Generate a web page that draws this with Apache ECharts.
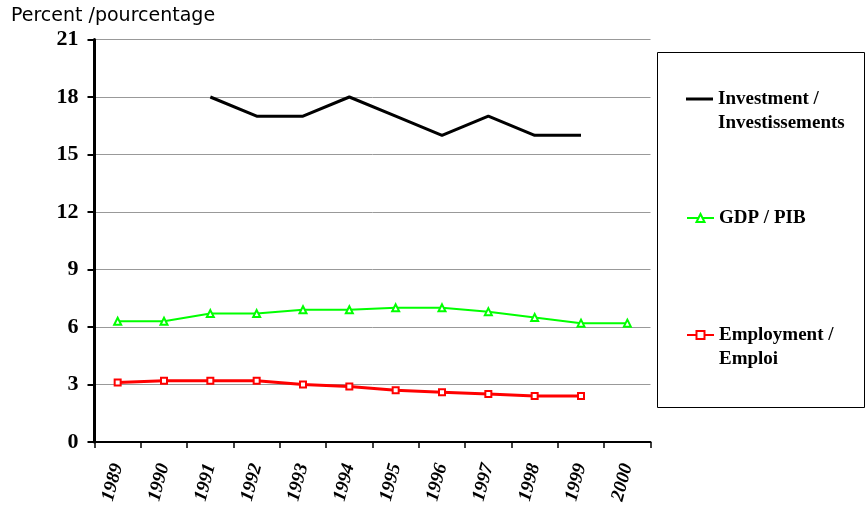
<!DOCTYPE html>
<html>
<head>
<meta charset="utf-8">
<script src="https://cdn.jsdelivr.net/npm/echarts@6/dist/echarts.min.js"></script>
<style>
  html, body { margin: 0; padding: 0; background: #fff; }
  #app { width: 866px; height: 508px; }
</style>
</head>
<body>
<div id="app"></div>
<script>
var years = ['1989', '1990', '1991', '1992', '1993', '1994', '1995', '1996', '1997', '1998', '1999', '2000'];
var investment = [null, null, 18, 17, 17, 18, 17, 16, 17, 16, 16, null];
var gdp = [6.3, 6.3, 6.7, 6.7, 6.9, 6.9, 7.0, 7.0, 6.8, 6.5, 6.2, 6.2];
var employment = [3.1, 3.2, 3.2, 3.2, 3.0, 2.9, 2.7, 2.6, 2.5, 2.4, 2.4, null];

var nameInv = 'Investment / Investissements';
var nameGdp = 'GDP / PIB';
var nameEmp = 'Employment / Emploi';

var serif = '"Liberation Serif", "Times New Roman", serif';

var legendText = {
    fontFamily: serif,
    fontWeight: 'bold',
    fontSize: 19,
    lineHeight: 24,
    color: '#000'
};

function legendAt(name, top, icon, h) {
    var item = { name: name };
    if (icon) item.icon = icon;
    return {
        data: [item],
        left: 686,
        top: top,
        padding: 0,
        itemWidth: 27,
        itemHeight: h || 10,
        selectedMode: false,
        textStyle: legendText,
        formatter: function (n) {
            if (n === nameInv) return '\nInvestment /\nInvestissements';
            if (n === nameEmp) return '\nEmployment /\nEmploi';
            return n;
        }
    };
}

var myChart = echarts.init(document.getElementById('app'));

myChart.setOption({
    animation: false,
    backgroundColor: '#fff',
    grid: { left: 94.5, right: 215.5, top: 39.5, bottom: 66 },
    graphic: [{
        type: 'text',
        left: 11,
        top: 7,
        style: {
            text: 'Percent /pourcentage',
            font: '19px "DejaVu Sans", Verdana, sans-serif',
            fill: '#000'
        }
    }, {
        type: 'rect',
        shape: { x: 657.5, y: 52.5, width: 207, height: 355 },
        style: { fill: 'none', stroke: '#000', lineWidth: 1 }
    }],
    legend: [
        legendAt(nameInv, 63, 'rect', 3),
        legendAt(nameGdp, 206),
        legendAt(nameEmp, 299)
    ],
    xAxis: {
        type: 'category',
        data: years,
        boundaryGap: true,
        axisLine: { lineStyle: { color: '#000', width: 2 } },
        axisTick: { show: true, inside: false, length: 6, lineStyle: { color: '#000', width: 1.5 } },
        axisLabel: {
            rotate: 75,
            margin: 22,
            interval: 0,
            fontFamily: serif,
            fontWeight: 'bold',
            fontStyle: 'italic',
            fontSize: 19,
            color: '#000'
        },
        splitLine: { show: false }
    },
    yAxis: {
        type: 'value',
        min: 0,
        max: 21,
        interval: 3,
        axisLine: { show: true, lineStyle: { color: '#000', width: 3 } },
        axisTick: { show: true, inside: false, length: 7, lineStyle: { color: '#000', width: 2 } },
        axisLabel: {
            margin: 16,
            fontFamily: serif,
            fontWeight: 'bold',
            fontSize: 22,
            color: '#000'
        },
        splitLine: { lineStyle: { color: '#999', width: 1 } }
    },
    series: [{
        name: nameInv,
        type: 'line',
        data: investment,
        symbol: 'none',
        lineStyle: { color: '#000', width: 3 },
        itemStyle: { color: '#000' }
    }, {
        name: nameGdp,
        type: 'line',
        data: gdp,
        symbol: 'emptyTriangle',
        symbolSize: 7,
        lineStyle: { color: '#00ff00', width: 2 },
        itemStyle: { color: '#00ff00', borderWidth: 1 }
    }, {
        name: nameEmp,
        type: 'line',
        data: employment,
        symbol: 'emptyRect',
        symbolSize: 6,
        lineStyle: { color: '#ff0000', width: 3 },
        itemStyle: { color: '#ff0000', borderWidth: 1 }
    }]
});
</script>
</body>
</html>
